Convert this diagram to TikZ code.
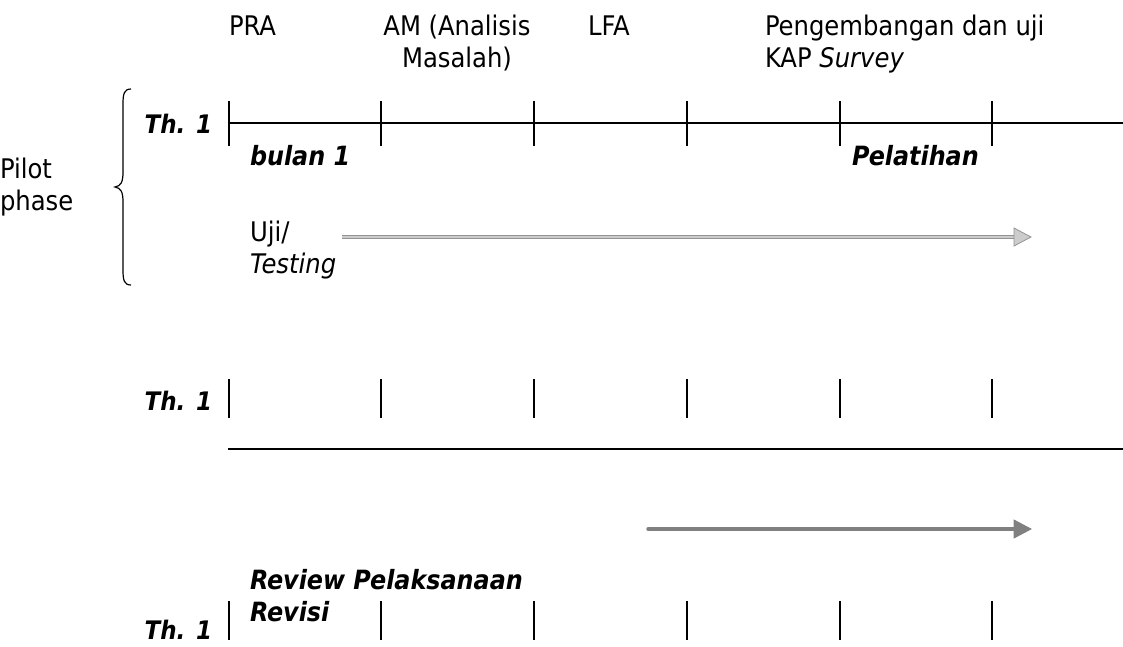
\documentclass[tikz,border=0pt]{standalone}
\usepackage{fontspec}
\setmainfont{DejaVu Sans Condensed}[BoldItalicFont={DejaVu Sans Condensed Bold Oblique},ItalicFont={DejaVu Sans Condensed Oblique}]
\usetikzlibrary{arrows.meta}
\begin{document}
\begin{tikzpicture}[x=1pt,y=-1pt,
  every node/.style={inner sep=0pt,outer sep=0pt,font=\fontsize{27}{32}\selectfont},
  lbl/.style={anchor=base west,align=left},
  clbl/.style={anchor=base,align=center},
  bi/.style={font=\fontsize{26.5}{32}\selectfont\bfseries\itshape},
  yr/.style={font=\fontsize{25.5}{32}\selectfont\bfseries\itshape,anchor=base east},
  axis/.style={line width=1.6pt},
  tick/.style={line width=1.6pt},
  softarrow/.style={draw=gray!85,double=gray!40,line width=1pt,double distance=2pt},
  softhead/.style={fill=gray!40,draw=gray!85,line width=0.8pt},
  darkarrow/.style={draw=gray,line width=3.5pt,line cap=round},
  darkhead/.style={fill=gray,draw=gray,line width=0.8pt}]
\useasboundingbox (0,0) rectangle (1123,646);

% column headings (multi-line nodes sit on the baseline of their last line)
\node[lbl] (pra) at (229,35) {PRA};
\node[clbl] (am) at (457,67) {AM (Analisis\\Masalah)};
\node[lbl] (lfa) at (588,35) {LFA};
\node[lbl] (peng) at (765,67) {Pengembangan dan uji\\KAP \textit{Survey}};

% pilot phase label and brace
\node[lbl] (pilot) at (0,210) {Pilot\\phase};
\draw[line width=1.2pt] (131,89) .. controls (124,89) and (123,94) .. (123,104)
  -- (123,172) .. controls (123,182) and (121,186) .. (115,187)
  .. controls (121,188) and (123,192) .. (123,202)
  -- (123,270) .. controls (123,280) and (124,285) .. (131,285);

% first time line
\node[yr] (th1) at (212,133) {Th. 1};
\coordinate (a0) at (229,123);
\coordinate (a1) at (1123,123);
\draw[axis] (a0) -- (a1);
\foreach \x in {229,381,534,687,840,992}
  \draw[tick] (\x,101) -- (\x,146);
\node[bi,lbl] (bulan) at (250,165) {bulan 1};
\node[bi,lbl] (pelatihan) at (852,165) {Pelatihan};

% testing arrow
\node[lbl] (uji) at (250,273) {Uji/\\\textit{Testing}};
\coordinate (u0) at (342,237);
\coordinate (u1) at (1014,237);
\coordinate (u2) at (1031,237);
\draw[softarrow] (u0) -- (u1);
\draw[softhead] (1014,228) -- (u2) -- (1014,246) -- cycle;

% second time line
\node[yr] (th2) at (212,410) {Th. 1};
\foreach \x in {229,381,534,687,840,992}
  \draw[tick] (\x,379) -- (\x,418);
\coordinate (b0) at (228,449);
\coordinate (b1) at (1123,449);
\draw[axis] (b0) -- (b1);

% review arrow
\coordinate (r0) at (648,529);
\coordinate (r1) at (1015,529);
\coordinate (r2) at (1031,529);
\draw[darkarrow] (r0) -- (r1);
\draw[darkhead] (1014,520) -- (r2) -- (1014,538) -- cycle;
\node[bi,lbl] (review) at (250,621) {Review Pelaksanaan\\Revisi};

% third time line
\node[yr] (th3) at (212,639) {Th. 1};
\foreach \x in {229,381,534,687,840,992}
  \draw[tick] (\x,601) -- (\x,640);
\end{tikzpicture}
\end{document}
